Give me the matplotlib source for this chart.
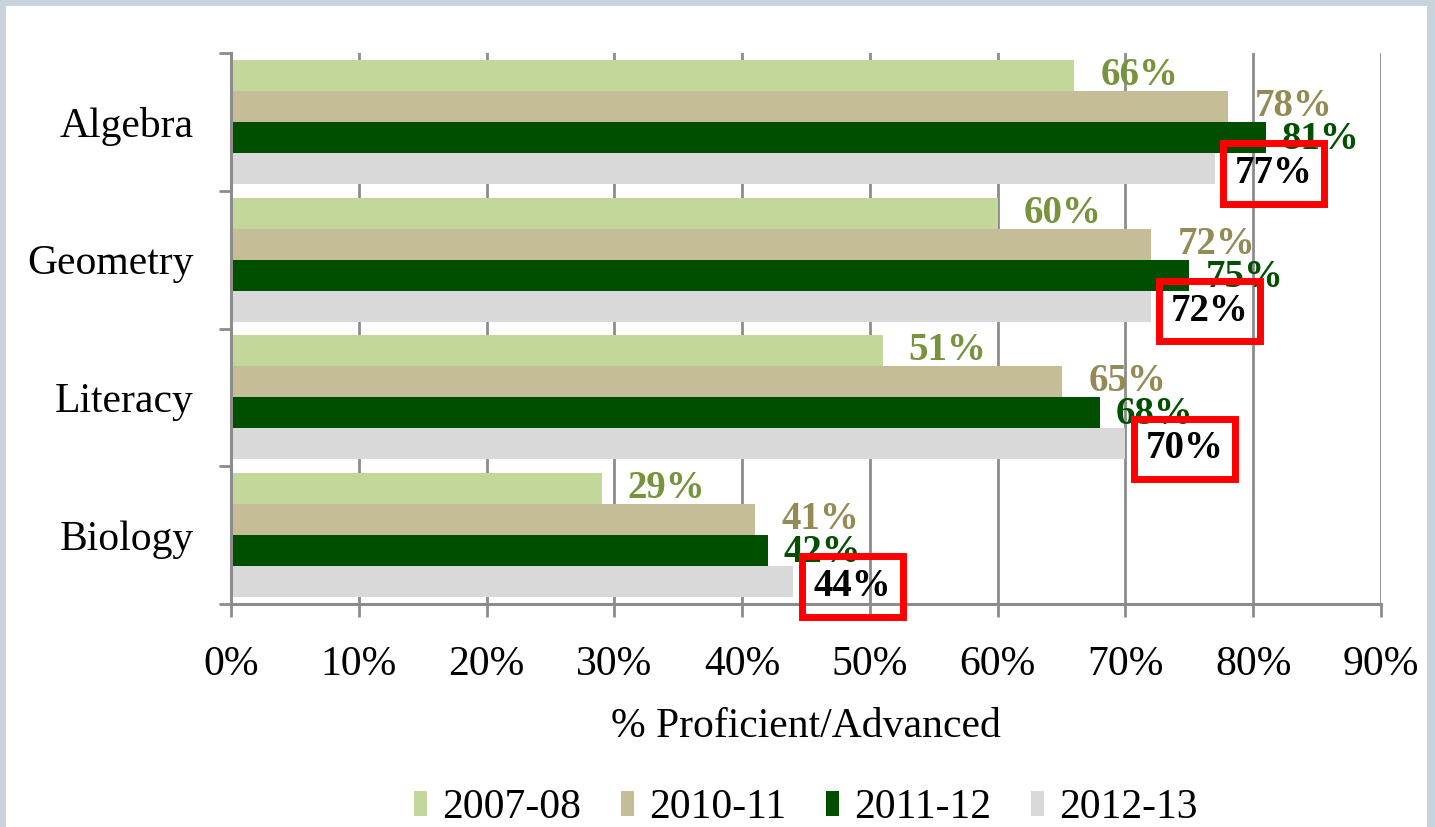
import matplotlib.pyplot as plt
from matplotlib.patches import Rectangle
import numpy as np

subjects = ["Algebra", "Geometry", "Literacy", "Biology"]
years = ["2007-08", "2010-11", "2011-12", "2012-13"]
pct_0708 = [66, 60, 51, 29]
pct_1011 = [78, 72, 65, 41]
pct_1112 = [81, 75, 68, 42]
pct_1213 = [77, 72, 70, 44]
xticks = list(range(0, 91, 10))

bar_colors = ["#c4d79b", "#c4bd97", "#004f00", "#d9d9d9"]
label_colors = ["#77933c", "#948a54", "#005000", "#000000"]
label_dx = [26, 27, 16, 20]
label_dy = [0, 0, -2, -5]

plt.rcParams['font.family'] = ['Liberation Serif', 'DejaVu Serif']
fs = 30
lfs = 28
grid_gray = "#8c8c8c"

fig = plt.figure(figsize=(14.35, 8.27), dpi=100, facecolor="#c9d3dc")
fig.patches.append(Rectangle((6 / 1435, 0), 1421 / 1435, 1 - 6 / 827,
                             transform=fig.transFigure, facecolor="white",
                             edgecolor="none", zorder=-10))
ax = fig.add_axes([231 / 1435, 1 - 604 / 827, 1150 / 1435, 551 / 827])
ax.set_facecolor("none")

series = [pct_0708, pct_1011, pct_1112, pct_1213]
y = np.arange(len(subjects))
h = 0.225
for j, vals in enumerate(series):
    pos = y + (j - 1.5) * h
    ax.barh(pos, vals, height=h, color=bar_colors[j], label=years[j], zorder=2)
    for yy, v in zip(pos, vals):
        if j == 3:
            ax.annotate(f"{v}%", (v, yy), xytext=(label_dx[j], label_dy[j]),
                        textcoords="offset pixels", ha="left", va="center",
                        fontsize=lfs, fontweight="bold", color=label_colors[j],
                        zorder=5,
                        bbox=dict(boxstyle="square,pad=0.3", facecolor="none",
                                  edgecolor="#ff0000", linewidth=5))
        else:
            ax.annotate(f"{v}%", (v, yy), xytext=(label_dx[j], label_dy[j]),
                        textcoords="offset pixels", ha="left", va="center",
                        fontsize=lfs, fontweight="bold", color=label_colors[j],
                        zorder=4)

ax.set_xlim(0, 90)
ax.set_ylim(3.5, -0.5)
ax.set_xticks(xticks)
ax.set_xticklabels([f"{v}%" for v in xticks], fontsize=fs)
ax.set_yticks(np.arange(-0.5, 3.6, 1.0))
ax.set_yticklabels([])
ax.set_yticks(y, minor=True)
ax.set_yticklabels(subjects, minor=True, fontsize=fs)
ax.tick_params(axis="y", which="minor", length=0, pad=27)
ax.tick_params(axis="y", which="major", length=9, width=2, color=grid_gray, direction="out")
ax.tick_params(axis="x", length=9, width=2, color=grid_gray, pad=21)
ax.grid(axis="x", color=grid_gray, linewidth=2, zorder=1)
ax.set_axisbelow(True)
for s in ["top", "right"]:
    ax.spines[s].set_visible(False)
for s in ["left", "bottom"]:
    ax.spines[s].set_color(grid_gray)
    ax.spines[s].set_linewidth(2.2)
    ax.spines[s].set_zorder(3)
ax.set_xlabel("% Proficient/Advanced", fontsize=fs, labelpad=17)

fig.legend(loc="center", bbox_to_anchor=(806 / 1435, 1 - 808 / 827), ncol=4,
           frameon=False, fontsize=fs, handlelength=0.31, handleheight=0.55,
           handletextpad=0.36, columnspacing=0.96)

fig.savefig("out.png", dpi=100, facecolor=fig.get_facecolor())
